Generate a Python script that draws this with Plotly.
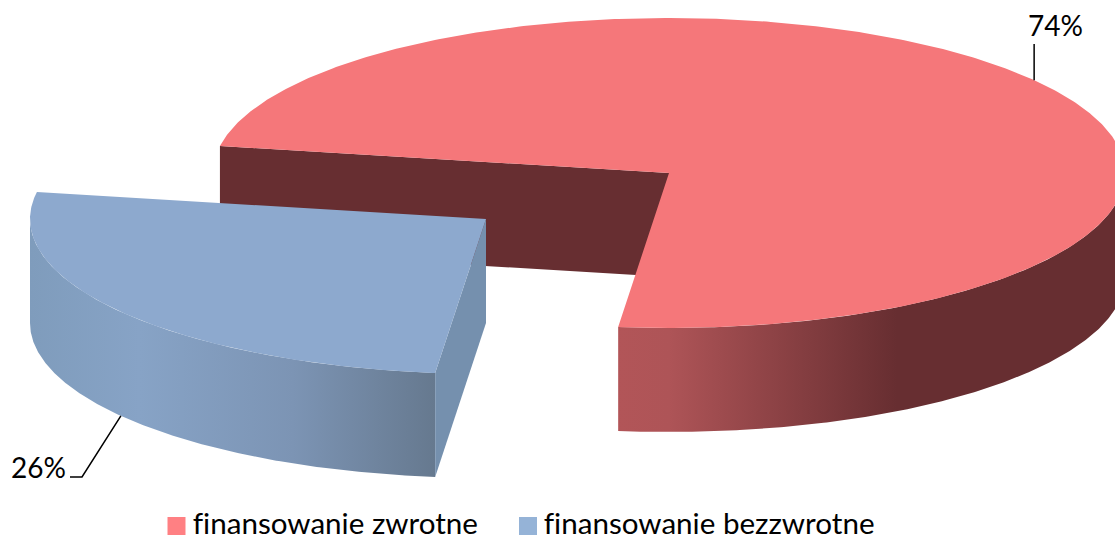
import numpy as np
import plotly.graph_objects as go

categories = ["finansowanie zwrotne", "finansowanie bezzwrotne"]
values = [74, 26]
labels = ["74%", "26%"]

W, H = 1115, 535
RX, RY, DEPTH = 456, 155, 104
START = 280.0          # clockwise from the top of the ellipse, first slice
CENTERS = [(669, 173), (486, 219)]
TOP = ["#f5777a", "#8da9ce"]
CUT = ["#672e31", "#7590ae"]
KEY = ["#ff8083", "#95b3d7"]
RED_GRAD = [(0, "#b25558"), (0.1, "#ae5457"), (0.55, "#672e31"), (1, "#672e31")]
BLUE_GRAD = [(0, "#7f9cbc"), (0.27, "#87a3c6"), (0.65, "#7c94b4"), (1, "#66798f")]
FONT = "Lato"

shares = [v / sum(values) * 360 for v in values]
spans = [(START, START + shares[0]), (START + shares[0], START + shares[0] + shares[1])]


def pt(c, deg, drop=0):
    t = np.radians(deg)
    return c[0] + RX * np.sin(t), c[1] - RY * np.cos(t) + drop


def arc(c, a, b, drop=0, n=240):
    x, y = pt(c, np.linspace(a, b, n), drop)
    return list(x), list(y)


fig = go.Figure()


def poly(x, y, color=None, grad=None):
    kw = dict(x=x, y=y, mode="lines", fill="toself", line=dict(width=0),
              hoverinfo="skip", showlegend=False)
    if grad:
        kw["fillgradient"] = grad
    else:
        kw["fillcolor"] = color
    fig.add_trace(go.Scatter(**kw))


# first slice: cut face, outer wall, top
c = CENTERS[0]
a, b = spans[0]
ex, ey = pt(c, a)
poly([ex, c[0], c[0], ex, ex], [ey, c[1], c[1] + DEPTH, ey + DEPTH, ey], CUT[0])
wall_end = b % 360
x1, y1 = arc(c, wall_end, 90)
x2, y2 = arc(c, 90, wall_end, DEPTH)
poly(x1 + x2, y1 + y2, grad=dict(type="horizontal", colorscale=RED_GRAD,
                                 start=min(x1), stop=max(x1)))
x, y = arc(c, a, b, n=500)
poly([c[0]] + x + [c[0]], [c[1]] + y + [c[1]], TOP[0])

# second slice: outer wall, cut face, top
c = CENTERS[1]
a, b = spans[1]
a, b = a % 360, (a % 360) + (b - a)
x1, y1 = arc(c, a, 270)
x2, y2 = arc(c, 270, a, DEPTH)
poly(x1 + x2, y1 + y2, grad=dict(type="horizontal", colorscale=BLUE_GRAD,
                                 start=min(x1), stop=max(x1)))
ex, ey = pt(c, a)
poly([c[0], ex, ex, c[0], c[0]], [c[1], ey, ey + DEPTH, c[1] + DEPTH, c[1]], CUT[1])
x, y = arc(c, a, b)
poly([c[0]] + x + [c[0]], [c[1]] + y + [c[1]], TOP[1])

# leader lines run from each slice's mid angle
mid0 = (spans[0][0] + spans[0][1]) / 2
mid1 = (spans[1][0] + spans[1][1]) / 2
lx0, ly0 = pt(CENTERS[0], mid0)
lx1, ly1 = pt(CENTERS[1], mid1, DEPTH)
fig.add_trace(go.Scatter(x=[lx0, lx0], y=[ly0, 44], mode="lines", line=dict(color="#000", width=1.5),
                         hoverinfo="skip", showlegend=False))
fig.add_trace(go.Scatter(x=[lx1, 82, 70], y=[ly1, 477, 477], mode="lines", line=dict(color="#000", width=1.5),
                         hoverinfo="skip", showlegend=False))

# legend keys
fig.add_trace(go.Scatter(x=[176.5, 528], y=[526, 526], mode="markers",
                         marker=dict(symbol="square", size=18, color=KEY, line=dict(width=0)),
                         hoverinfo="skip", showlegend=False))

ann = [
    dict(x=1055, y=25, text=labels[0], xanchor="center", yanchor="middle", font_size=28),
    dict(x=38, y=467, text=labels[1], xanchor="center", yanchor="middle", font_size=28),
    dict(x=192, y=522.5, text=categories[0], xanchor="left", yanchor="middle", font_size=29.6),
    dict(x=543, y=522.5, text=categories[1], xanchor="left", yanchor="middle", font_size=29.6),
]
for an in ann:
    fs = an.pop("font_size")
    fig.add_annotation(showarrow=False, xref="x", yref="y", borderpad=0,
                       font=dict(family=FONT, size=fs, color="#000"), **an)

fig.update_layout(
    width=W, height=H, margin=dict(l=0, r=0, t=0, b=0),
    paper_bgcolor="#fff", plot_bgcolor="#fff", showlegend=False,
    xaxis=dict(range=[0, W], visible=False, fixedrange=True),
    yaxis=dict(range=[H, 0], visible=False, fixedrange=True),
)
fig.write_html("out.html", config=dict(displayModeBar=False),
               post_script=("document.body.style.margin='0';"
                            "document.documentElement.style.overflow='hidden';"
                            "var s=document.createElement('style');"
                            "s.textContent='text{font-variant-ligatures:none!important;"
                            "font-feature-settings:\"liga\" 0,\"clig\" 0!important}';"
                            "document.head.appendChild(s);"))
